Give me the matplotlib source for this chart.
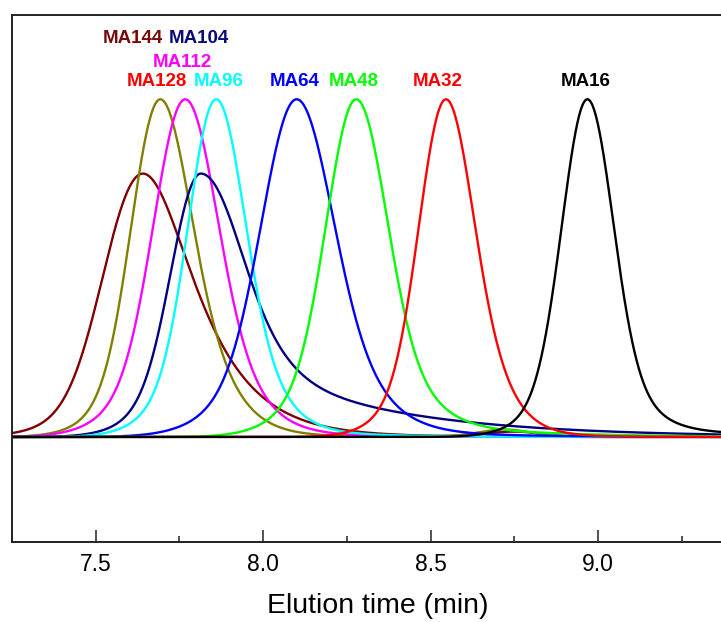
import numpy as np
import matplotlib
matplotlib.use("Agg")
import matplotlib.pyplot as plt
from matplotlib.ticker import MultipleLocator, FormatStrFormatter

plt.rcParams['font.family'] = ['Liberation Sans', 'DejaVu Sans']

# Peak parameters for each sample: elution time of the maximum, relative height,
# core width, fraction of a broad foot, exponential tailing and a slow tail
samples   = ["MA144", "MA128", "MA112", "MA104", "MA96", "MA64", "MA48", "MA32", "MA16"]
colors    = ["#800000", "#808000", "#ff00ff", "#000080", "#00ffff", "#0000ff", "#00ff00", "#ff0000", "#000000"]
peak_time = [7.641, 7.693, 7.767, 7.814, 7.860, 8.100, 8.278, 8.546, 8.968]
peak_h    = [0.78, 1.0, 1.0, 0.78, 1.0, 1.0, 1.0, 1.0, 1.0]
sigma     = [0.094, 0.074, 0.086, 0.076, 0.076, 0.095, 0.084, 0.071, 0.073]
foot_frac = [0.14, 0.18, 0.20, 0.20, 0.20, 0.22, 0.20, 0.18, 0.15]
tau       = [0.130, 0.060, 0.035, 0.060, 0.030, 0.040, 0.020, 0.045, 0.012]
tail_amp  = [0.03, 0.08, 0.06, 0.38, 0.07, 0.07, 0.08, 0.02, 0.05]
tail_tau  = [0.30, 0.15, 0.20, 0.42, 0.20, 0.25, 0.30, 0.20, 0.30]
# small late-eluting hump seen on some traces
hump_amp  = [0.015, 0.022, 0.0, 0.0, 0.0, 0.0, 0.0, 0.0, 0.0]
hump_time = [8.75, 8.72, 8.7, 8.7, 8.7, 8.7, 8.7, 8.7, 8.7]
hump_w    = [0.08, 0.08, 0.08, 0.08, 0.08, 0.08, 0.08, 0.08, 0.08]

# label text colours and positions
label_colors = ["#7a0a0a", "#ff0000", "#ff00ff", "#0a0a78", "#00ffff", "#0000ff", "#00ff00", "#ff0000", "#000000"]
label_x = [7.611, 7.683, 7.758, 7.808, 7.868, 8.095, 8.271, 8.522, 8.964]
label_y = [1.179, 1.054, 1.110, 1.179, 1.054, 1.054, 1.054, 1.054, 1.054]


def peak_shape(u, s, eta, tk, a, t2):
    """Gaussian core with a broad foot, convolved with an exponential, plus a slow tail; max = 1."""
    du = u[1] - u[0]
    g = (1 - eta) * np.exp(-u**2 / (2 * s**2)) + eta * np.exp(-u**2 / (2 * (1.8 * s)**2))
    k = np.exp(-np.arange(0, 12 * tk + du, du) / tk)
    core = np.convolve(g, k)[:len(u)]
    core /= core.max()
    um = u[np.argmax(core)]
    v = u - um
    vp = np.clip(v, 0, None)
    slow = a * np.exp(-vp / t2) * (1 - np.exp(-vp**2 / (2 * s**2)))
    y = core + slow
    y /= y.max()
    return v - v[np.argmax(y)], y


fig = plt.figure(figsize=(7.21, 6.22), dpi=100)
ax = fig.add_axes([11.5 / 721, 80 / 622, 1 - 11.5 / 721, 527 / 622])

t = np.linspace(7.2, 9.45, 3000)
u = np.arange(-3.0, 4.0, 0.0005)
for i in range(len(samples)):
    v, shape = peak_shape(u, sigma[i], foot_frac[i], tau[i], tail_amp[i], tail_tau[i])
    y = peak_h[i] * np.interp(t - peak_time[i], v, shape, left=0, right=0)
    y += hump_amp[i] * np.exp(-(t - hump_time[i])**2 / (2 * hump_w[i]**2))
    ax.plot(t, y, color=colors[i], lw=1.7, solid_capstyle='round')

for i in range(len(samples)):
    ax.text(label_x[i], label_y[i], samples[i], color=label_colors[i],
            fontsize=13.5, fontweight='bold', ha='center', va='center')

ax.set_xlim(7.2486, 9.367)
ax.set_ylim(-0.311, 1.2496)
ax.set_yticks([])
ax.xaxis.set_major_locator(MultipleLocator(0.5))
ax.xaxis.set_minor_locator(MultipleLocator(0.25))
ax.xaxis.set_major_formatter(FormatStrFormatter('%.1f'))
ax.tick_params(axis='x', which='major', direction='in', length=9, width=1.1,
               labelsize=16.5, pad=8, color='#222222')
ax.tick_params(axis='x', which='minor', direction='in', length=4.5, width=1.1, color='#222222')
ax.spines['right'].set_visible(False)
for sp in ['left', 'bottom', 'top']:
    ax.spines[sp].set_linewidth(1.4)
    ax.spines[sp].set_color('#222222')
ax.set_xlabel("Elution time (min)", fontsize=20.5)
ax.xaxis.set_label_coords((377.5 - 11.5) / 709.5, -0.096)

fig.savefig("out.png", dpi=100)
